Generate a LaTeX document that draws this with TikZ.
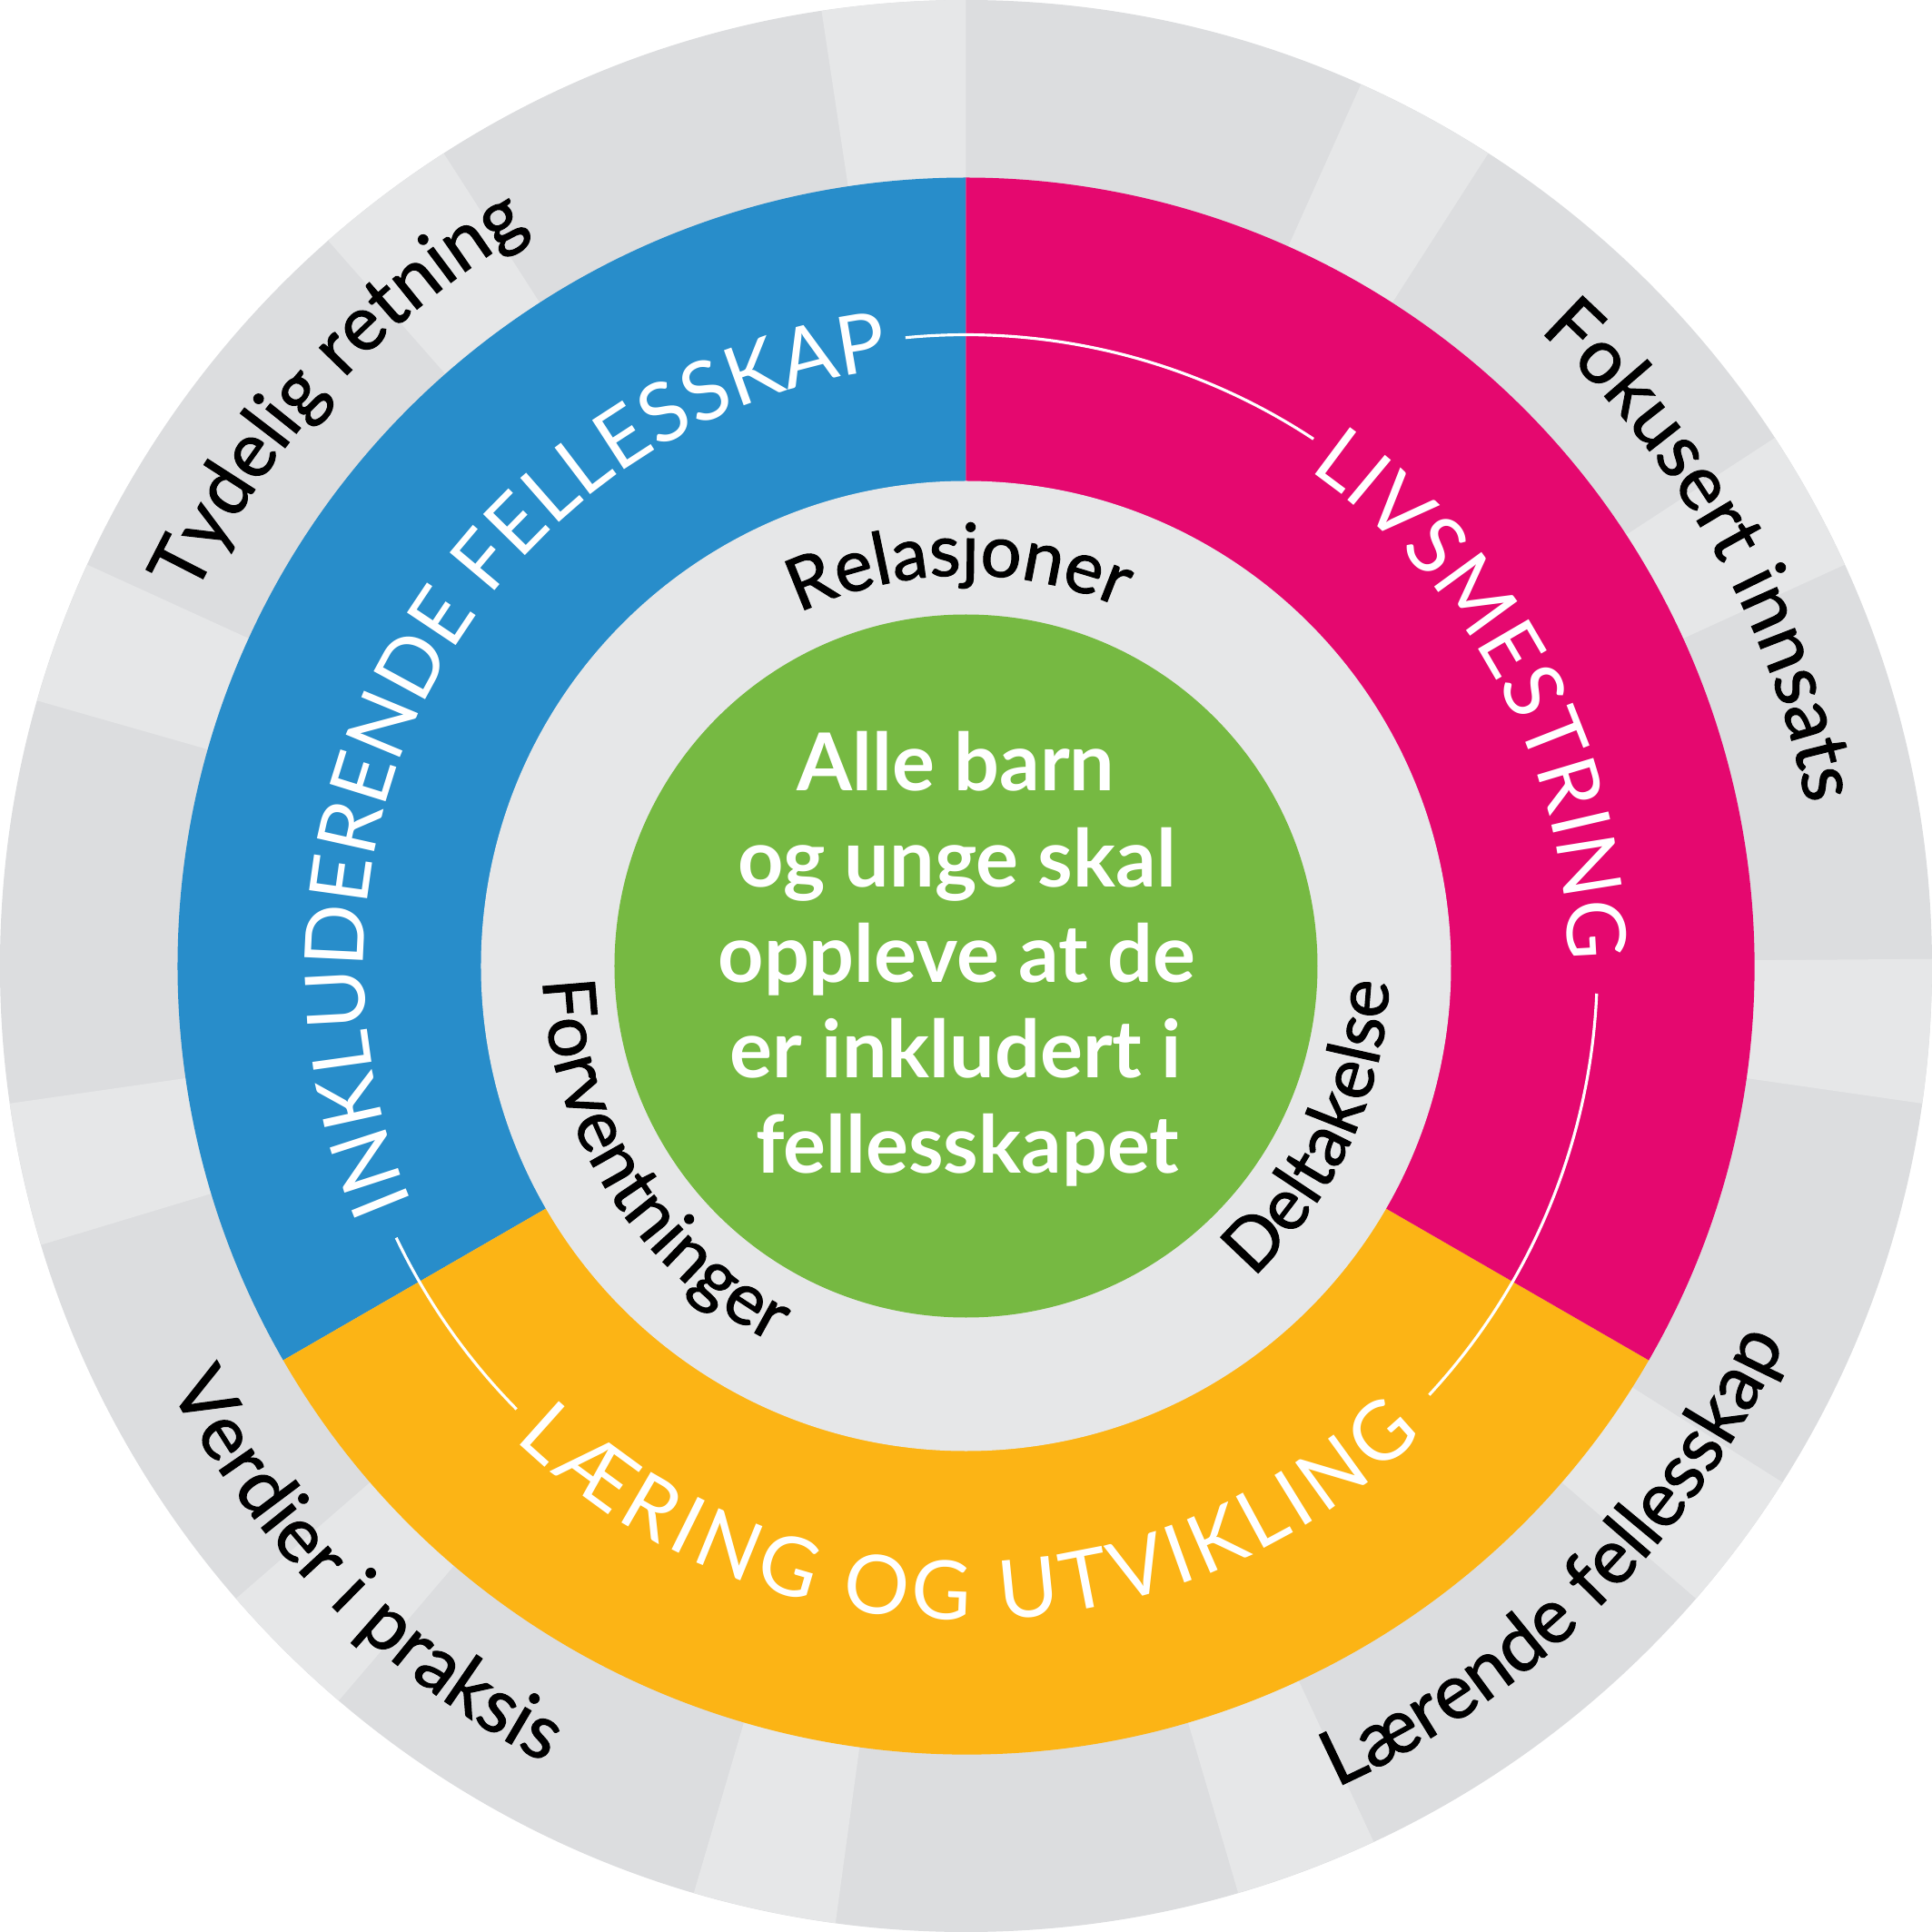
\documentclass[tikz,border=0pt]{standalone}
\usepackage{fontspec}
\setmainfont{Lato}
\newfontfamily\labelfam[FakeBold=1.3]{Lato}
\usetikzlibrary{decorations.text}
\definecolor{ringdark}{HTML}{DCDDDF}
\definecolor{ringlight}{HTML}{E6E7E8}
\definecolor{innergray}{HTML}{E6E7E8}
\definecolor{secblue}{HTML}{288DCA}
\definecolor{secpink}{HTML}{E5086F}
\definecolor{secyellow}{HTML}{FCB415}
\definecolor{secgreen}{HTML}{76B942}
\newcommand\ringfont{\fontsize{25.6}{30}\selectfont}
\newcommand\innerfont{\labelfam\fontsize{22.7}{27}\selectfont}
\newcommand\outerfont{\labelfam\fontsize{24}{29}\selectfont}
% clockwise arc text (tops outward): center angle, radius, half span, text, colour
\newcommand\cwtext[5]{%
  \path[decorate, decoration={text along path, text align=center, text color=#5, text={#4}}]
    ({#1+#3}:#2) arc[start angle={#1+#3}, end angle={#1-#3}, radius=#2];}
% counter-clockwise arc text (tops inward)
\newcommand\ccwtext[5]{%
  \path[decorate, decoration={text along path, text align=center, text color=#5, text={#4}}]
    ({#1-#3}:#2) arc[start angle={#1-#3}, end angle={#1+#3}, radius=#2];}
\tikzset{
  centertext/.style={text=white, font=\bfseries\fontsize{25}{30}\selectfont, inner sep=0pt, anchor=base},
  whitearc/.style={draw=white, line width=0.9pt}
}
\begin{document}
\begin{tikzpicture}
\useasboundingbox (-10.635,-10.635) rectangle (10.635,10.635);
% outer ring
\fill[ringdark] (0,0) circle[radius=10.635];
\foreach \k in {0,...,10}{
  \pgfmathsetmacro\a{90+\k*32.7273}
  \pgfmathsetmacro\b{\a+8.6}
  \fill[ringlight] (0,0) -- (\a:10.635) arc[start angle=\a, end angle=\b, radius=10.635] -- cycle;
}
% coloured sectors
\fill[secblue] (0,0) -- (90:8.68) arc[start angle=90, end angle=210, radius=8.68] -- cycle;
\fill[secyellow] (0,0) -- (210:8.68) arc[start angle=210, end angle=330, radius=8.68] -- cycle;
\fill[secpink] (0,0) -- (-30:8.68) arc[start angle=-30, end angle=90, radius=8.68] -- cycle;
\fill[innergray] (0,0) circle[radius=5.34];
\fill[secgreen] (0,0) circle[radius=3.87];
% white thin arcs
\draw[whitearc] (95.5:6.95) arc[start angle=95.5, end angle=56.6, radius=6.95];
\draw[whitearc] (-2.5:6.95) arc[start angle=-2.5, end angle=-42.8, radius=6.95];
\draw[whitearc] (205.5:6.95) arc[start angle=205.5, end angle=224.6, radius=6.95];
% ring texts
\cwtext{150.2}{6.63}{80}{|\ringfont|INKLUDERENDE FELLESSKAP}{white}
\cwtext{27.9}{6.63}{60}{|\ringfont|LIVSMESTRING}{white}
\path[decorate, decoration={text along path, text align=fit to path, text color=white,
      text={|\ringfont|LÆRING OG UTVIKLING}}]
  (226.4:7.20) arc[start angle=226.4, end angle=314.2, radius=7.20];
% inner labels
\cwtext{91}{4.30}{60}{|\innerfont|Relasjoner}{black}
\ccwtext{212.4}{4.66}{60}{|\innerfont|Forventninger}{black}
\ccwtext{-24.7}{4.66}{60}{|\innerfont|Deltakelse}{black}
% outer labels
\cwtext{137.5}{9.42}{60}{|\outerfont|Tydelig retning}{black}
\cwtext{29.4}{9.42}{60}{|\outerfont|Fokusert innsats}{black}
\ccwtext{-45.2}{9.92}{60}{|\outerfont|Lærende fellesskap}{black}
\ccwtext{225}{9.92}{60}{|\outerfont|Verdier i praksis}{black}
% centre text
\node[centertext] (c1) at (-0.11,1.925) {Alle barn};
\node[centertext] (c2) at (-0.10,0.875) {og unge skal};
\node[centertext] (c3) at (-0.10,-0.175) {oppleve at de};
\node[centertext] (c4) at (-0.11,-1.225) {er inkludert i};
\node[centertext] (c5) at (0.015,-2.275) {fellesskapet};
\end{tikzpicture}
\end{document}
